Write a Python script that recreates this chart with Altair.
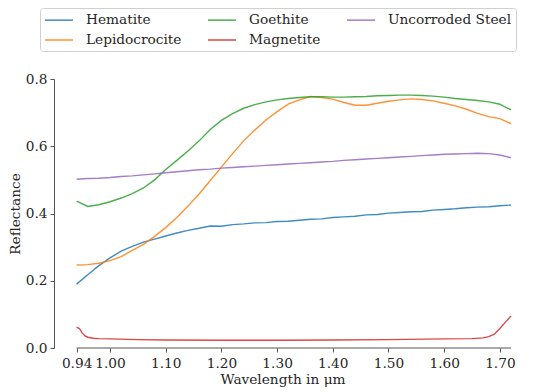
import altair as alt
import pandas as pd

wavelength = [0.94, 0.96, 0.98, 1.00, 1.02, 1.04, 1.06, 1.08, 1.10, 1.12,
              1.14, 1.16, 1.18, 1.20, 1.22, 1.24, 1.26, 1.28, 1.30, 1.32,
              1.34, 1.36, 1.38, 1.40, 1.42, 1.44, 1.46, 1.48, 1.50, 1.52,
              1.54, 1.56, 1.58, 1.60, 1.62, 1.64, 1.66, 1.68, 1.70, 1.72]

hematite = [0.190, 0.218, 0.245, 0.268, 0.288, 0.302, 0.315, 0.324, 0.333, 0.342,
            0.350, 0.356, 0.363, 0.362, 0.367, 0.369, 0.372, 0.373, 0.376, 0.377,
            0.380, 0.383, 0.384, 0.388, 0.390, 0.392, 0.396, 0.397, 0.401, 0.403,
            0.405, 0.406, 0.410, 0.412, 0.414, 0.417, 0.419, 0.420, 0.423, 0.425]

lepidocrocite = [0.247, 0.248, 0.252, 0.260, 0.272, 0.290, 0.308, 0.332, 0.358, 0.388,
                 0.422, 0.458, 0.498, 0.538, 0.578, 0.616, 0.648, 0.678, 0.703, 0.725,
                 0.738, 0.748, 0.745, 0.740, 0.730, 0.722, 0.722, 0.728, 0.734, 0.738,
                 0.741, 0.739, 0.735, 0.728, 0.720, 0.710, 0.698, 0.688, 0.682, 0.667]

goethite = [0.437, 0.421, 0.426, 0.435, 0.446, 0.459, 0.476, 0.500, 0.531, 0.558,
            0.586, 0.616, 0.650, 0.677, 0.697, 0.713, 0.724, 0.732, 0.738, 0.742,
            0.745, 0.747, 0.747, 0.746, 0.746, 0.747, 0.748, 0.750, 0.751, 0.752,
            0.752, 0.751, 0.749, 0.746, 0.742, 0.739, 0.736, 0.732, 0.725, 0.708]

steel = [0.502, 0.504, 0.505, 0.507, 0.510, 0.512, 0.515, 0.518, 0.521, 0.524,
         0.527, 0.530, 0.532, 0.535, 0.537, 0.539, 0.541, 0.543, 0.545, 0.547,
         0.549, 0.551, 0.553, 0.555, 0.558, 0.560, 0.562, 0.564, 0.566, 0.568,
         0.570, 0.572, 0.574, 0.576, 0.577, 0.578, 0.579, 0.578, 0.574, 0.566]

magnetite_wl = [0.94, 0.945, 0.95, 0.955, 0.96, 0.97, 0.98, 1.00, 1.05, 1.10,
                1.20, 1.30, 1.40, 1.50, 1.60, 1.65, 1.67, 1.68, 1.69, 1.70, 1.71, 1.72]
magnetite = [0.062, 0.058, 0.045, 0.036, 0.032, 0.029, 0.028, 0.027, 0.025, 0.024,
             0.023, 0.023, 0.024, 0.025, 0.027, 0.028, 0.030, 0.034, 0.041, 0.058, 0.077, 0.095]

series_order = ["Hematite", "Lepidocrocite", "Goethite", "Magnetite", "Uncorroded Steel"]
series_colors = ["#1f77b4", "#ff7f0e", "#2ca02c", "#d62728", "#9467bd"]

x_ticks = [0.94, 1.00, 1.10, 1.20, 1.30, 1.40, 1.50, 1.60, 1.70]
y_ticks = [0.0, 0.1, 0.2, 0.3, 0.4, 0.5, 0.6, 0.7, 0.8]

rows = []
for name, vals in [("Hematite", hematite), ("Lepidocrocite", lepidocrocite),
                   ("Goethite", goethite), ("Uncorroded Steel", steel)]:
    for w, v in zip(wavelength, vals):
        rows.append({"wl": w, "r": v, "series": name})
for w, v in zip(magnetite_wl, magnetite):
    rows.append({"wl": w, "r": v, "series": "Magnetite"})
df = pd.DataFrame(rows)

FONT = "'DejaVu Serif', 'Liberation Serif', 'Times New Roman', Times, serif"
FS = 13.7

x_scale = alt.Scale(domain=[0.8994, 1.72], nice=False, zero=False)
y_scale = alt.Scale(domain=[0, 0.8], nice=False)

lines = alt.Chart(df).mark_line(strokeWidth=1.4, opacity=0.85).encode(
    x=alt.X("wl:Q", scale=x_scale,
            axis=alt.Axis(values=x_ticks, format=".2f", domain=False, grid=False,
                          title="Wavelength in μm", labelOverlap=False, labelFlush=False,
                          tickSize=4, labelPadding=4, titlePadding=3)),
    y=alt.Y("r:Q", scale=y_scale,
            axis=alt.Axis(values=y_ticks, format=".1f", grid=False, title="Reflectance",
                          tickSize=4, labelPadding=3, titlePadding=3,
                          labelOverlap=False, labelFlush=False)),
    color=alt.Color("series:N",
                    scale=alt.Scale(domain=series_order, range=series_colors),
                    sort=series_order,
                    legend=alt.Legend(title=None, orient="none", legendX=-14, legendY=-71,
                                      columns=3, columnPadding=23, rowPadding=5,
                                      padding=4, symbolType="M-1,0H3", symbolSize=196,
                                      symbolStrokeWidth=1.5, labelOffset=26,
                                      strokeColor="#d0d0d0", cornerRadius=3,
                                      fillColor="white", labelFont=FONT, labelFontSize=FS,
                                      labelColor="#262626", gridAlign="each")),
    detail="series:N",
)

spine_df = pd.DataFrame({"x": [wavelength[0]], "x2": [wavelength[-1]], "y": [0.0]})
spine = alt.Chart(spine_df).mark_rule(color="#555555", strokeWidth=1).encode(
    x=alt.X("x:Q", scale=x_scale), x2="x2:Q", y=alt.Y("y:Q", scale=y_scale))

chart = alt.layer(spine, lines).properties(
    width=457, height=269,
    autosize=alt.AutoSizeParams(type="none"),
    padding={"left": 46, "top": 71, "right": 31, "bottom": 50},
).configure(font=FONT).configure_view(stroke=None).configure_axis(
    labelFont=FONT, labelFontSize=FS, labelColor="#262626",
    titleFont=FONT, titleFontSize=FS, titleFontWeight="normal", titleColor="#262626",
    domainColor="#555555", tickColor="#555555",
).configure_legend(labelFont=FONT, labelFontSize=FS, labelColor="#262626")

chart.save("out.html", embed_options={"renderer": "svg", "actions": False})
